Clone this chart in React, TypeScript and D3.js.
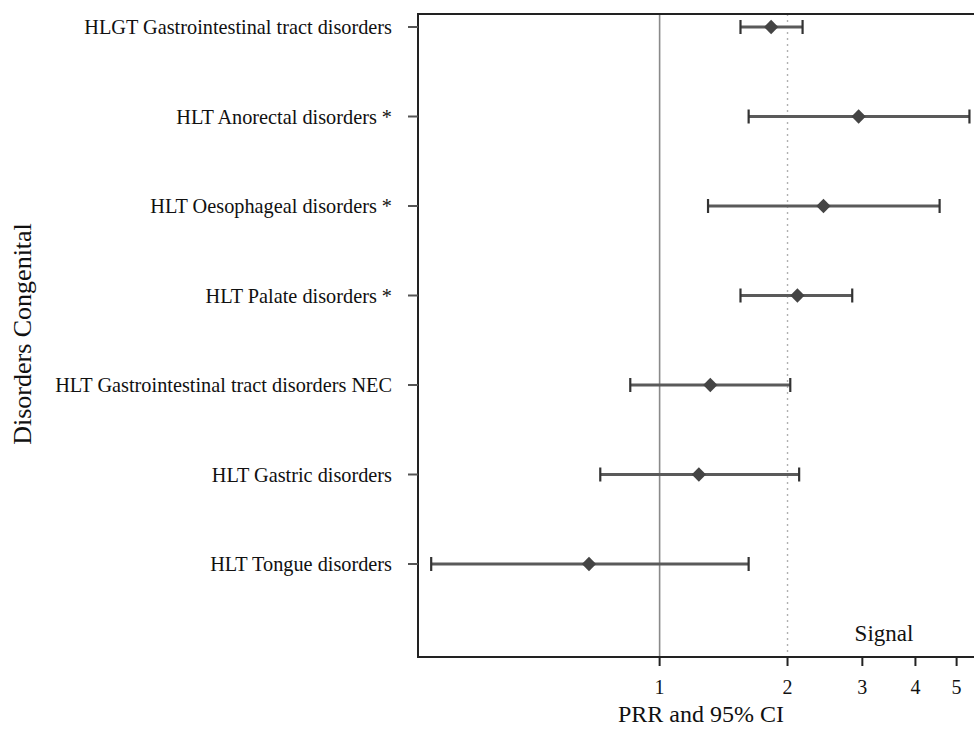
import React from "react";
import * as d3 from "d3";

const categories = [
  "HLGT Gastrointestinal tract disorders",
  "HLT Anorectal disorders *",
  "HLT Oesophageal disorders *",
  "HLT Palate disorders *",
  "HLT Gastrointestinal tract disorders NEC",
  "HLT Gastric disorders",
  "HLT Tongue disorders",
];
const prr = [1.83, 2.94, 2.43, 2.11, 1.316, 1.237, 0.682];
const lower = [1.55, 1.62, 1.3, 1.55, 0.853, 0.725, 0.29];
const upper = [2.17, 5.36, 4.56, 2.84, 2.03, 2.13, 1.62];
const xTicks = [1, 2, 3, 4, 5];
const refLine = 1;
const signalLine = 2;

const W = 974;
const H = 729;
const left = 418;
const right = 984;
const top = 14;
const bottom = 657;

export default function App() {
  const x = d3.scaleLog().domain([0.27, 5.8]).range([left, right]);
  const y = d3.scaleLinear().domain([0, 6]).range([27, 564]);
  const font = "'Liberation Serif', 'Times New Roman', serif";
  const diamond = d3.symbol().type(d3.symbolDiamond2).size(130);
  return (
    <svg width={W} height={H} style={{ position: "absolute", left: 0, top: 0, background: "#fff" }} fontFamily={font}>
      <rect x={0} y={0} width={W} height={H} fill="#fff" />
      {/* reference lines */}
      <line x1={x(refLine)} x2={x(refLine)} y1={top} y2={bottom} stroke="#8a8a8a" strokeWidth={1.6} />
      <line x1={x(signalLine)} x2={x(signalLine)} y1={top} y2={bottom} stroke="#b0b0b0" strokeWidth={1.4} strokeDasharray="2,4" />
      {/* frame */}
      <path d={`M${right},${top}H${left}V${bottom}H${right}`} fill="none" stroke="#222" strokeWidth={2} />
      {/* y ticks and labels */}
      {categories.map((c, i) => (
        <g key={c}>
          <line x1={left - 10} x2={left} y1={y(i)} y2={y(i)} stroke="#555" strokeWidth={2} />
          <text x={392} y={y(i)} dy="0.35em" textAnchor="end" fontSize={20.3} fill="#111">{c}</text>
        </g>
      ))}
      {/* x ticks */}
      {xTicks.map((t) => (
        <g key={t}>
          <line x1={x(t)} x2={x(t)} y1={bottom} y2={bottom + 9} stroke="#222" strokeWidth={2} />
          <text x={x(t)} y={687} dy="0.35em" textAnchor="middle" fontSize={20} fill="#111">{t}</text>
        </g>
      ))}
      {/* error bars */}
      {categories.map((c, i) => (
        <g key={"e" + c}>
          <line x1={x(lower[i])} x2={x(upper[i])} y1={y(i)} y2={y(i)} stroke="#5a5a5a" strokeWidth={2.8} />
          <line x1={x(lower[i])} x2={x(lower[i])} y1={y(i) - 7} y2={y(i) + 7} stroke="#333" strokeWidth={2.2} />
          <line x1={x(upper[i])} x2={x(upper[i])} y1={y(i) - 7} y2={y(i) + 7} stroke="#333" strokeWidth={2.2} />
          <path d={diamond() as string} transform={`translate(${x(prr[i])},${y(i)})`} fill="#444" />
        </g>
      ))}
      <text x={884} y={633} dy="0.35em" textAnchor="middle" fontSize={23} fill="#111">Signal</text>
      <text x={701} y={714} dy="0.35em" textAnchor="middle" fontSize={24} fill="#111">PRR and 95% CI</text>
      <text transform={`translate(22,334) rotate(-90)`} dy="0.35em" textAnchor="middle" fontSize={26} fill="#111">Disorders Congenital</text>
    </svg>
  );
}
